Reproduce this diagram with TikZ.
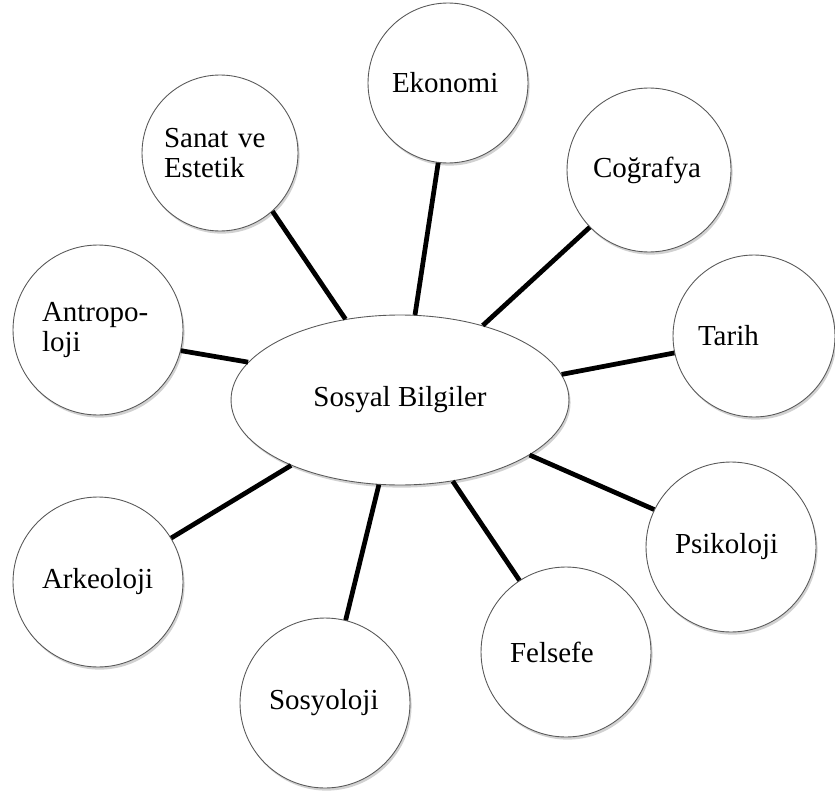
\documentclass[tikz,border=0pt]{standalone}
\usepackage{fontspec}
\setmainfont{Liberation Serif}
\usetikzlibrary{shapes.geometric, shadows}

\begin{document}
\begin{tikzpicture}[x=0.02cm, y=-0.02cm,
		golge/.style={drop shadow={shadow xshift=0.9pt, shadow yshift=-1.5pt, fill=black!40, opacity=0.45}},
		konu/.style={circle, draw=black!65, line width=0.5pt, fill=white, golge,
			minimum size=3.4cm, inner sep=0pt, text width=2.24cm, align=left,
			font=\fontsize{16.5}{17.5}\selectfont},
		merkez/.style={ellipse, draw=black!65, line width=0.5pt, fill=white, golge,
			minimum width=6.76cm, minimum height=3.4cm, inner sep=0pt,
			font=\fontsize{16.5}{17.5}\selectfont},
		bag/.style={line width=2.7pt}]
	\useasboundingbox (0,0) rectangle (835,794);

	% merkez
	\node[merkez] (sosyal) at (400,400) {Sosyal Bilgiler};

	% dallar
	\node[konu, minimum size=3.12cm] (sanat) at (220,153) {Sanat ve\\Estetik};
	\node[konu, minimum size=3.2cm] (ekonomi) at (448,83) {\raisebox{-0.13cm}{Ekonomi}};
	\node[konu, minimum size=3.28cm] (cografya) at (649,170) {Coğrafya};
	\node[konu, minimum size=3.24cm] (tarih) at (754,336) {\raisebox{-0.07cm}{Tarih}};
	\node[konu] (psikoloji) at (731,547) {Psikoloji};
	\node[konu] (felsefe) at (566,652) {Felsefe};
	\node[konu] (sosyoloji) at (325,703) {Sosyoloji};
	\node[konu] (arkeoloji) at (98,582) {Arkeoloji};
	\node[konu] (antropoloji) at (98,330) {Antropo-\\loji};

	% baglar
	\draw[bag] (sanat.-48.8) -- (sosyal.124.8);
	\draw[bag] (ekonomi.-97.8) -- (sosyal.80.1);
	\draw[bag] (cografya.-136.5) -- (sosyal.42.5);
	\draw[bag] (tarih.-168.1) -- (sosyal.9.9);
	\draw[bag] (psikoloji.154.3) -- (sosyal.-23.3);
	\draw[bag] (felsefe.123.7) -- (sosyal.-57.1);
	\draw[bag] (sosyoloji.76.5) -- (sosyal.-104.3);
	\draw[bag] (arkeoloji.31) -- (sosyal.-149);
	\draw[bag] (antropoloji.-14.7) -- (sosyal.166.7);
\end{tikzpicture}
\end{document}
